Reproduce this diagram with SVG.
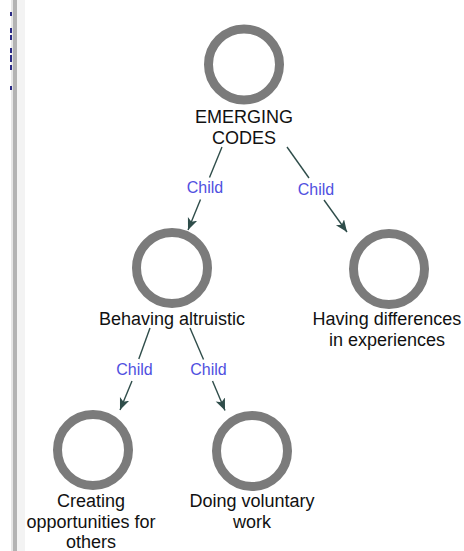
<svg xmlns="http://www.w3.org/2000/svg" width="464" height="551" viewBox="0 0 464 551">
  <style>
    .node circle { fill: none; stroke: #7b7b7b; stroke-width: 9; }
    .node text { font-family: "Liberation Sans", Arial, sans-serif; font-size: 18px; fill: #111; text-anchor: middle; }
    .edge line { stroke: #2f4d4a; stroke-width: 1.4; }
    .label { font-family: "Liberation Sans", Arial, sans-serif; font-size: 16px; fill: #5050e0; text-anchor: middle; }
  </style>
  <defs>
    <marker id="arrow" markerUnits="userSpaceOnUse" markerWidth="13" markerHeight="11" refX="12" refY="5" orient="auto">
      <path d="M0,0 L12,5 L0,10 L3,5 z" fill="#2f4d4a"/>
    </marker>
  </defs>

  <rect width="464" height="551" fill="#ffffff"/>

  <!-- left side panel border -->
  <g id="sidebar">
    <rect x="11" y="0" width="2" height="551" fill="#e6e6e6"/>
    <rect x="13" y="0" width="4" height="551" fill="#b3b3b3"/>
    <rect x="17" y="0" width="8" height="551" fill="#f3f3f3"/>
    <g fill="#2b2b86">
      <rect x="10" y="12" width="2" height="4"/>
      <rect x="10" y="28" width="2" height="5"/>
      <rect x="10" y="35" width="2" height="5"/>
      <rect x="10" y="48" width="2" height="5"/>
      <rect x="10" y="55" width="2" height="7"/>
      <rect x="10" y="65" width="2" height="5"/>
      <rect x="10" y="86" width="2" height="4"/>
    </g>
  </g>

  <!-- connectors -->
  <g id="connectors">
    <g class="edge">
      <line x1="222" y1="147" x2="209.5" y2="177.5"/>
      <line x1="200.5" y1="199.5" x2="188" y2="230" marker-end="url(#arrow)"/>
      <line x1="287" y1="147" x2="309" y2="178"/>
      <line x1="324" y1="200" x2="347" y2="232" marker-end="url(#arrow)"/>
      <line x1="150" y1="328" x2="138.8" y2="359"/>
      <line x1="132" y1="381" x2="120" y2="410" marker-end="url(#arrow)"/>
      <line x1="190" y1="328" x2="203.5" y2="359.5"/>
      <line x1="212.5" y1="381" x2="225" y2="410.5" marker-end="url(#arrow)"/>
    </g>
    <text class="label" x="205" y="193">Child</text>
    <text class="label" x="316" y="194.5">Child</text>
    <text class="label" x="134.5" y="375">Child</text>
    <text class="label" x="208.5" y="375">Child</text>
  </g>

  <!-- nodes -->
  <g id="emerging-codes" class="node">
    <circle cx="244" cy="64.5" r="35.5"/>
    <text x="244" y="123">EMERGING</text>
    <text x="244" y="143.5">CODES</text>
  </g>
  <g id="behaving-altruistic" class="node">
    <circle cx="172" cy="268" r="35.5"/>
    <text x="172" y="325">Behaving altruistic</text>
  </g>
  <g id="having-differences" class="node">
    <circle cx="389" cy="269" r="35.5"/>
    <text x="387" y="325">Having differences</text>
    <text x="387" y="345.5">in experiences</text>
  </g>
  <g id="creating-opportunities" class="node">
    <circle cx="93" cy="450" r="35.5"/>
    <text x="91" y="507">Creating</text>
    <text x="91" y="527.5">opportunities for</text>
    <text x="91" y="548">others</text>
  </g>
  <g id="doing-voluntary-work" class="node">
    <circle cx="252" cy="451" r="35.5"/>
    <text x="252" y="507">Doing voluntary</text>
    <text x="252" y="527.5">work</text>
  </g>
</svg>
